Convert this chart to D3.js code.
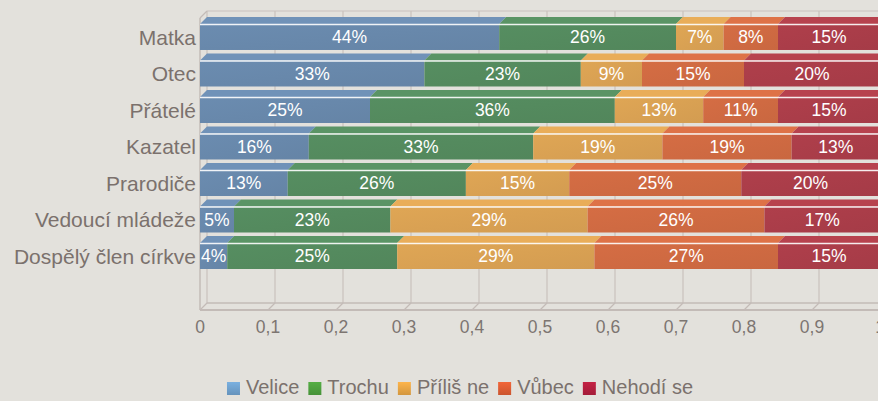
<!DOCTYPE html>
<html>
<head>
<meta charset="utf-8">
<script src="https://cdn.jsdelivr.net/npm/d3@7"></script>
<style>
  html, body { margin: 0; padding: 0; background: #e3e1dc; }
  svg { display: block; }
  text { font-family: "Liberation Sans", Arial, Helvetica, sans-serif; }
</style>
</head>
<body>
<svg id="chart" width="878" height="401"></svg>
<script>
// ---- data ----
const categories = ["Matka", "Otec", "Přátelé", "Kazatel", "Prarodiče", "Vedoucí mládeže", "Dospělý člen církve"];
const seriesNames = ["Velice", "Trochu", "Příliš ne", "Vůbec", "Nehodí se"];
const velice   = [44, 33, 25, 16, 12.9, 5, 4];
const trochu   = [26, 23, 36, 33, 26.2, 23, 25];
const prilisNe = [7, 9, 13, 19, 15.2, 29, 29];
const vubec    = [8, 15, 11, 19, 25.3, 26, 27];
const nehodiSe = [15, 20, 15, 13, 20.4, 17, 15];
const tickValues = [0, 0.1, 0.2, 0.3, 0.4, 0.5, 0.6, 0.7, 0.8, 0.9, 1];
const tickLabels = ["0", "0,1", "0,2", "0,3", "0,4", "0,5", "0,6", "0,7", "0,8", "0,9", "1"];

const seriesColors = ["#6888ab", "#548a5e", "#d9a153", "#cf6a42", "#aa3d49"];
const legendColors = ["#6c9bc6", "#4b9a3c", "#df9f42", "#d65a32", "#ad1e3c"];

const valuesBySeries = [velice, trochu, prilisNe, vubec, nehodiSe];
const table = categories.map((c, i) => {
  const row = { category: c };
  seriesNames.forEach((s, j) => row[s] = valuesBySeries[j][i] / 100);
  return row;
});

// ---- layout ----
const svg = d3.select("#chart");
const x = d3.scaleLinear().domain([0, 1]).range([200, 880]);
const y = d3.scaleBand().domain(categories).range([24, 269]).paddingInner(0.288).paddingOuter(0);
const dx = 7, dy = 7;
const wallTop = 11, floorY = 310;

const stack = d3.stack().keys(seriesNames);
const stacked = stack(table);

// back wall / floor
const g = svg.append("g");
const gridColor = "#c9c1bd";
g.selectAll("line.grid").data(tickValues).join("line")
  .attr("x1", d => x(d) + dx).attr("x2", d => x(d) + dx)
  .attr("y1", wallTop).attr("y2", floorY - dy)
  .attr("stroke", gridColor).attr("stroke-width", 1.2);
g.append("line").attr("x1", x(0) + dx).attr("x2", 878).attr("y1", wallTop).attr("y2", wallTop)
  .attr("stroke", gridColor).attr("stroke-width", 1.2);
g.append("line").attr("x1", x(0) + dx).attr("x2", 878).attr("y1", floorY - dy).attr("y2", floorY - dy)
  .attr("stroke", "#c3bbb7").attr("stroke-width", 1.5);
g.append("line").attr("x1", x(0)).attr("x2", 878).attr("y1", floorY).attr("y2", floorY)
  .attr("stroke", "#c3bbb7").attr("stroke-width", 2);
g.selectAll("line.fd").data(tickValues).join("line")
  .attr("x1", d => x(d)).attr("x2", d => x(d) + dx)
  .attr("y1", floorY).attr("y2", floorY - dy)
  .attr("stroke", "#c3bbb7").attr("stroke-width", 1.2);
g.append("line").attr("x1", x(0)).attr("x2", x(0)).attr("y1", wallTop + dy).attr("y2", floorY)
  .attr("stroke", "#c3bbb7").attr("stroke-width", 1.5);
g.append("line").attr("x1", x(0)).attr("x2", x(0) + dx).attr("y1", wallTop + dy).attr("y2", wallTop)
  .attr("stroke", "#c3bbb7").attr("stroke-width", 1.2);

// gradients
const defs = svg.append("defs");
seriesColors.forEach((c, i) => {
  const grad = defs.append("linearGradient").attr("id", "gf" + i)
    .attr("x1", 0).attr("y1", 0).attr("x2", 1).attr("y2", 1);
  grad.append("stop").attr("offset", "0%").attr("stop-color", d3.color(c).brighter(0.08));
  grad.append("stop").attr("offset", "100%").attr("stop-color", d3.color(c).darker(0.08));
  const lg = defs.append("linearGradient").attr("id", "lg" + i)
    .attr("x1", 0).attr("y1", 0).attr("x2", 0).attr("y2", 1);
  lg.append("stop").attr("offset", "0%").attr("stop-color", d3.color(legendColors[i]).brighter(0.35));
  lg.append("stop").attr("offset", "100%").attr("stop-color", d3.color(legendColors[i]).darker(0.15));
});

// bars
const bars = svg.append("g");
categories.forEach((cat, ci) => {
  const y0 = y(cat), h = y.bandwidth();
  const row = bars.append("g");
  stacked.forEach((s, si) => {
    const seg = s[ci];
    const xa = x(seg[0]), xb = x(seg[1]);
    row.append("path")
      .attr("d", `M${xa},${y0} L${xa + dx},${y0 - dy} L${xb + dx},${y0 - dy} L${xb},${y0} Z`)
      .attr("fill", d3.color(seriesColors[si]).brighter(0.2));
  });
  stacked.forEach((s, si) => {
    const seg = s[ci];
    const xa = x(seg[0]), xb = x(seg[1]);
    row.append("rect")
      .attr("x", xa).attr("y", y0).attr("width", xb - xa).attr("height", h)
      .attr("fill", `url(#gf${si})`);
  });
  row.append("line")
    .attr("x1", x(0)).attr("x2", x(d3.max(stacked, s => s[ci][1])))
    .attr("y1", y0 + 0.5).attr("y2", y0 + 0.5)
    .attr("stroke", "#ffffff").attr("stroke-width", 1.6).attr("opacity", 0.9);
  stacked.forEach((s, si) => {
    const seg = s[ci];
    const v = seg[1] - seg[0];
    row.append("text")
      .attr("x", (x(seg[0]) + x(seg[1])) / 2)
      .attr("y", y0 + h / 2)
      .attr("dy", "0.36em")
      .attr("text-anchor", "middle")
      .attr("fill", "#ffffff")
      .attr("font-size", "17.5px")
      .text(Math.round(v * 100) + "%");
  });
});

// category labels
svg.append("g").selectAll("text").data(categories).join("text")
  .attr("x", x(0) - 4)
  .attr("y", d => y(d) + y.bandwidth() / 2)
  .attr("dy", "0.36em")
  .attr("text-anchor", "end")
  .attr("fill", "#7b716d")
  .attr("font-size", "21px")
  .text(d => d);

// tick labels
svg.append("g").selectAll("text").data(tickValues).join("text")
  .attr("x", d => x(d))
  .attr("y", 333)
  .attr("text-anchor", "middle")
  .attr("fill", "#7d7571")
  .attr("font-size", "17.5px")
  .text((d, i) => tickLabels[i]);

// legend
const legend = svg.append("g");
const items = legend.selectAll("g").data(seriesNames).join("g");
items.append("rect").attr("width", 13).attr("height", 13).attr("y", -12)
  .attr("fill", (d, i) => `url(#lg${i})`);
items.append("text").attr("x", 19).attr("y", 0)
  .attr("fill", "#7b716d").attr("font-size", "20px").text(d => d);
let cx = 0;
const offsets = [];
items.each(function () {
  const w = d3.select(this).select("text").node().getComputedTextLength();
  offsets.push(cx);
  cx += 19 + w + 9;
});
const total = cx - 9;
const startX = 460 - total / 2;
items.attr("transform", (d, i) => `translate(${startX + offsets[i]},394)`);
</script>
</body>
</html>
